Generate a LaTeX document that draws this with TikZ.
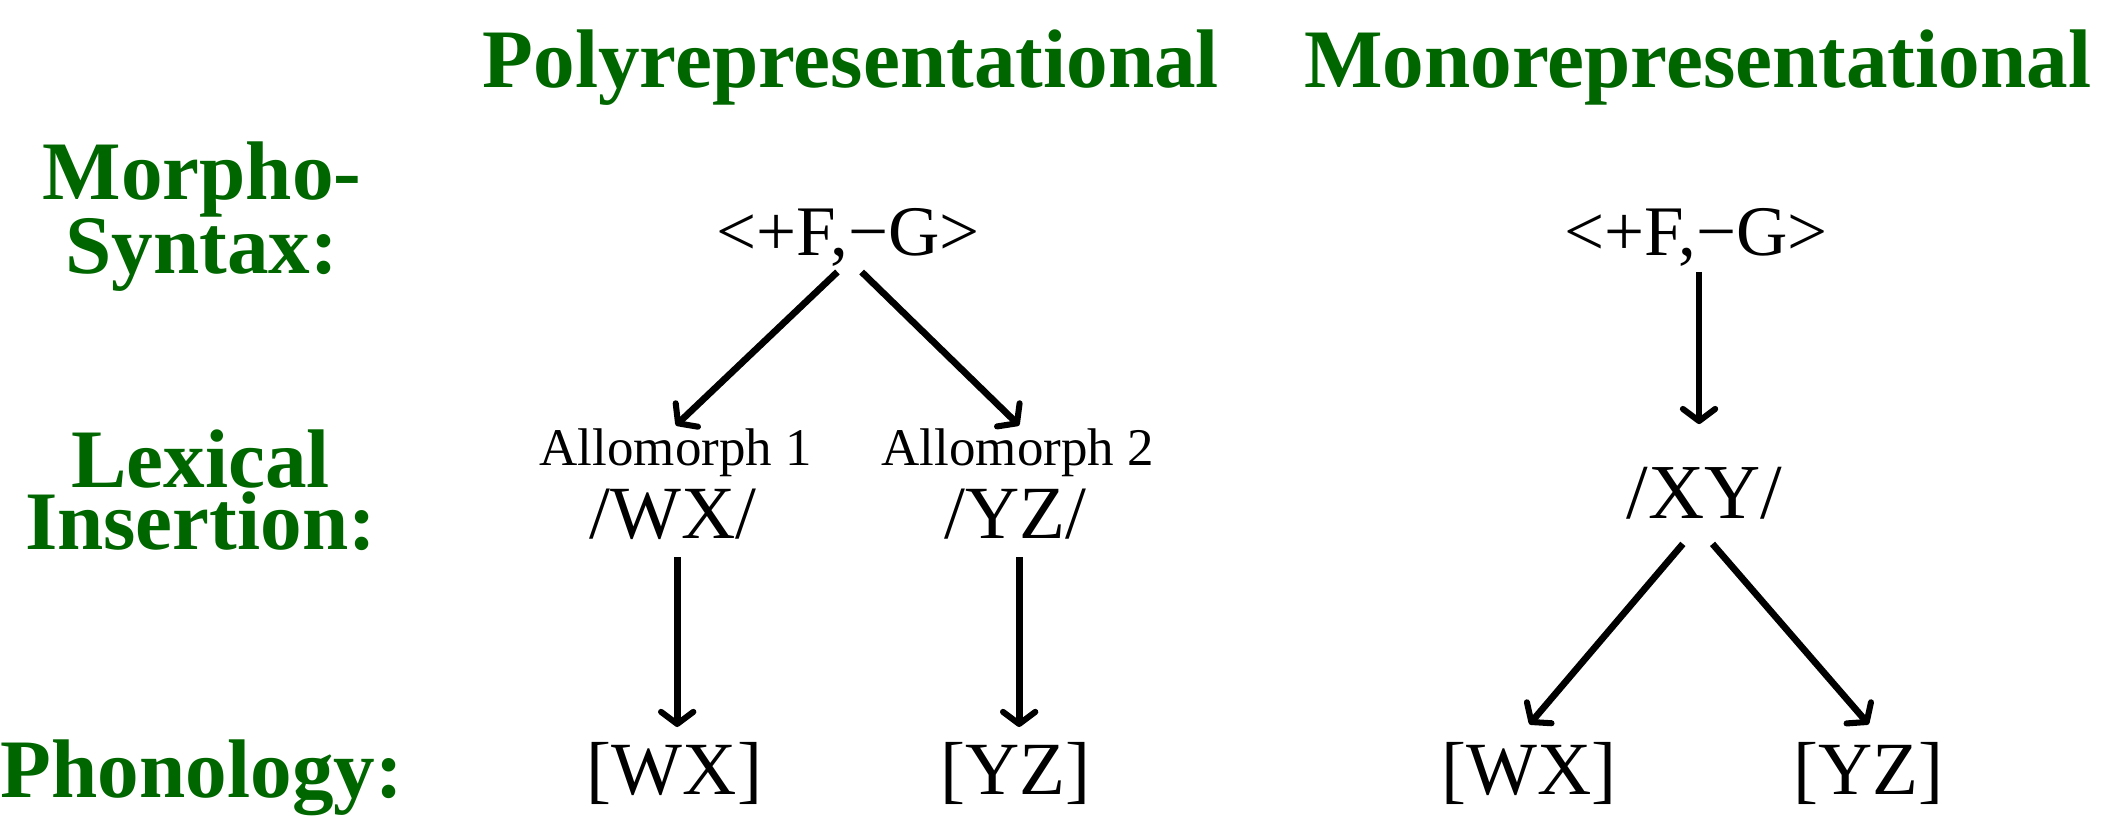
\documentclass[tikz,border=0pt]{standalone}
\usepackage{fontspec}
\setmainfont{Liberation Serif}
\usetikzlibrary{arrows.meta,calc}
\definecolor{hdgreen}{RGB}{0,102,0}
\begin{document}
\begin{tikzpicture}[x=1bp,y=-1bp,
  hd/.style={text=hdgreen, font=\fontsize{62}{46}\selectfont\bfseries, anchor=base, inner sep=0pt, align=center},
  feat/.style={font=\fontsize{53}{53}\selectfont, anchor=base, inner sep=0pt},
  allo/.style={font=\fontsize{39.5}{40}\selectfont, anchor=base, inner sep=0pt},
  form/.style={font=\fontsize{56}{56}\selectfont, anchor=base, inner sep=0pt},
  arr/.style={line width=5bp, -{Straight Barb[length=9bp,width=24bp,round,line width=4.5bp]}}]
\useasboundingbox (0,0) rectangle (1568,608);
% headings
\node[hd] (hp) at (632,65) {Polyrepresentational};
\node[hd] (hm) at (1261,65) {Monorepresentational};
% row labels
\node[hd] (lm) at (150,203) {Morpho-\\Syntax:};
\node[hd] (ll) at (149,408) {Lexical\\Insertion:};
\node[hd] (lp) at (150,592) {Phonology:};
% polyrepresentational
\node[feat] (fg1) at (630,190) {<+F,−G>};
\node[allo] (a1) at (502,346) {Allomorph 1};
\node[allo] (a2) at (756,346) {Allomorph 2};
\node[form] (wx1) at (500,400) {/WX/};
\node[form] (yz1) at (754,400) {/YZ/};
\node[form] (pw1) at (501,590) {[WX]};
\node[form] (py1) at (754,590) {[YZ]};
% monorepresentational
\node[feat] (fg2) at (1260,190) {<+F,−G>};
\node[form, font=\fontsize{58}{58}\selectfont] (xy) at (1266,385) {/XY/};
\node[form] (pw2) at (1136,590) {[WX]};
\node[form] (py2) at (1388,590) {[YZ]};
% arrows
\draw[arr] ($(fg1.base)+(-8,12)$) -- ($(a1.base)+(0,-30)$);
\draw[arr] ($(fg1.base)+(10,12)$) -- ($(a2.base)+(1,-30)$);
\draw[arr] ($(wx1.base)+(3,14)$) -- ($(pw1.base)+(2,-50)$);
\draw[arr] ($(yz1.base)+(3,14)$) -- ($(py1.base)+(3,-50)$);
\draw[arr] ($(fg2.base)+(2,12)$) -- ($(xy.base)+(-4,-70)$);
\draw[arr] ($(xy.base)+(-16,19)$) -- ($(pw2.base)+(0,-52)$);
\draw[arr] ($(xy.base)+(6,19)$) -- ($(py2.base)+(0,-52)$);
\end{tikzpicture}
\end{document}
